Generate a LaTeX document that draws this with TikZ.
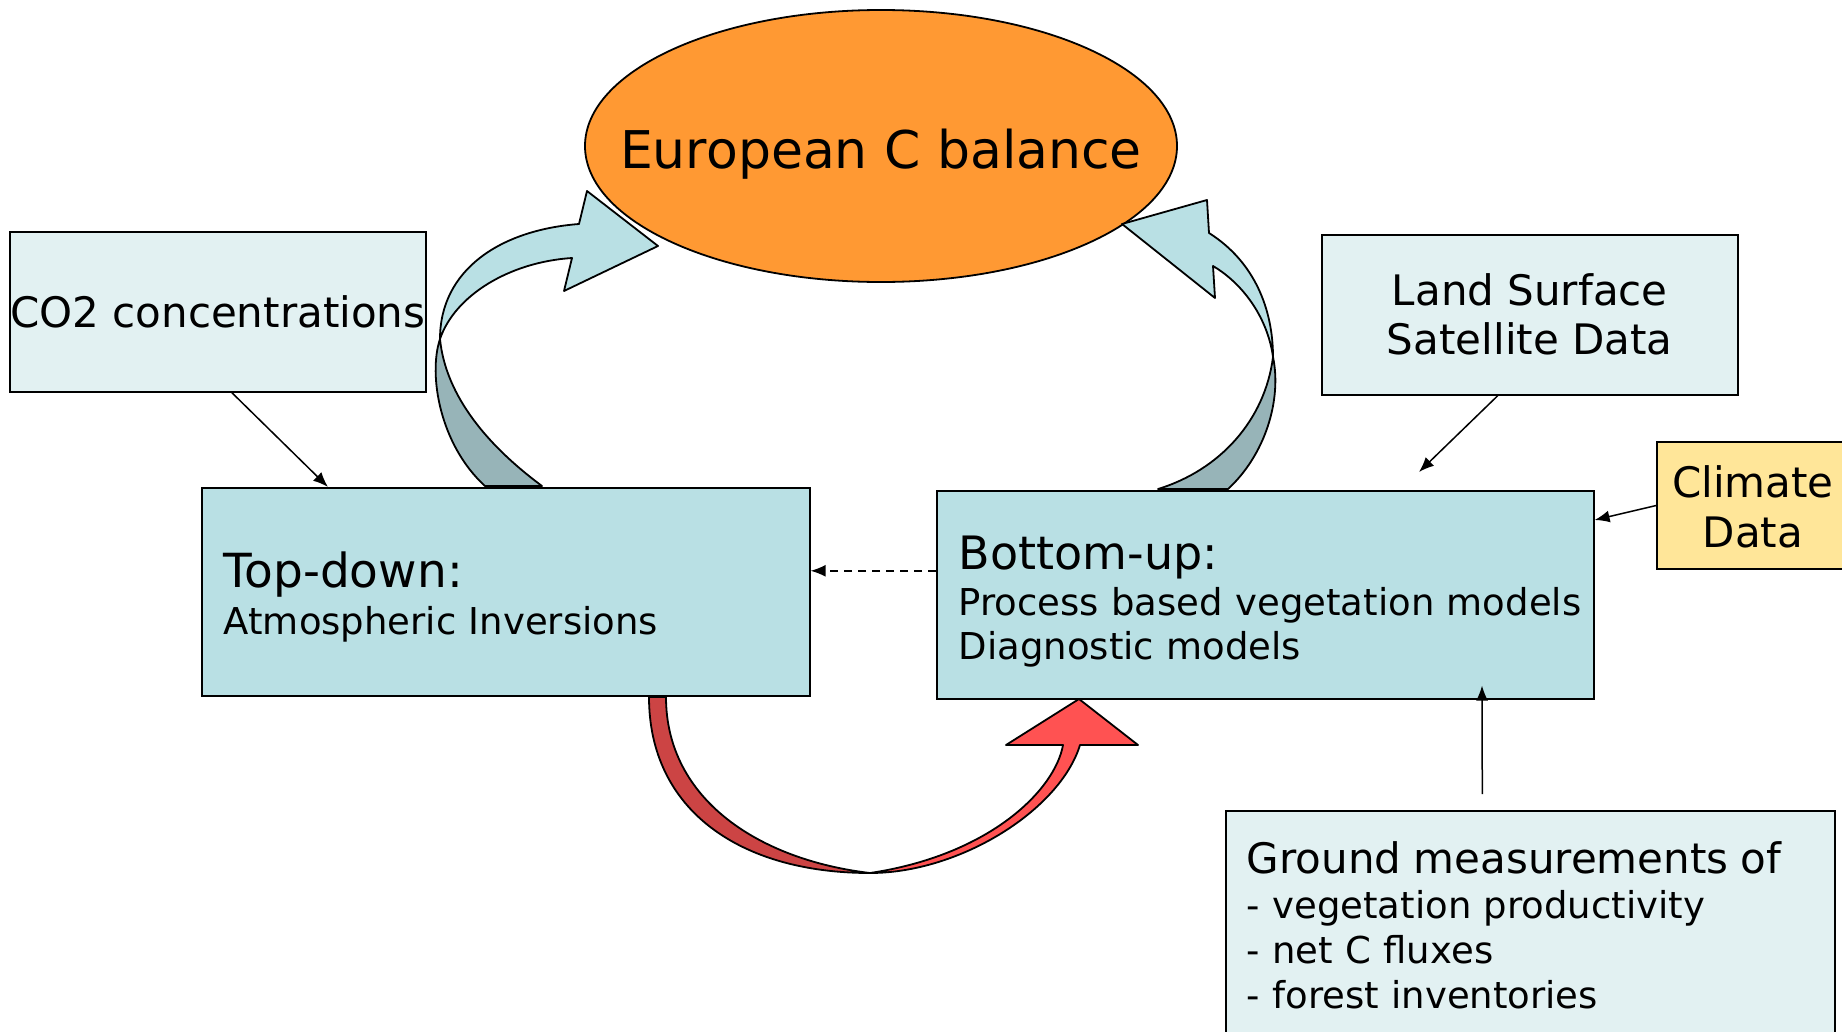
\documentclass[tikz,border=0pt]{standalone}
\usepackage{fontspec}
\setmainfont{DejaVu Sans}
\usetikzlibrary{shapes.geometric,arrows.meta}

\definecolor{balanceorange}{RGB}{255,153,51}
\definecolor{boxblue}{RGB}{185,224,228}
\definecolor{paleblue}{RGB}{226,241,242}
\definecolor{shadeblue}{RGB}{151,180,184}
\definecolor{climateyellow}{RGB}{255,230,153}
\definecolor{arrowred}{RGB}{255,82,82}
\definecolor{shadered}{RGB}{204,68,68}

\newcommand{\fsz}[2]{\fontsize{#1}{#2}\selectfont}
\hyphenpenalty=10000
\hfuzz=40pt

\begin{document}
\begin{tikzpicture}[x=1pt, y=-1pt,
  box/.style={draw, line width=1.6pt, rectangle, inner sep=0pt, anchor=north west},
  ribbon/.style={draw, line width=1.8pt, line join=round},
  link/.style={line width=1.5pt, -{Latex[length=15pt,width=12pt]}}]
  \clip (0,0) rectangle (1842,1031);

  \node[ellipse, draw, line width=1.8pt, fill=balanceorange, minimum width=592pt, minimum height=272pt,
    inner sep=0pt, text height=44pt, text depth=0pt, font=\fsz{52}{60}] (balance) at (881,146)
    {\makebox[0pt]{European C balance}};

  % twisted ribbons
  \draw[ribbon, fill=shadeblue] (440,339) .. controls (428,375) and (440,445) .. (485,486)
    -- (542,486) .. controls (480,440) and (445,390) .. (440,339) -- cycle;
  \draw[ribbon, fill=boxblue] (440,339) .. controls (455,295) and (510,262) .. (572,258)
    -- (564,291) -- (658,246) -- (587,191) -- (579,224)
    .. controls (500,230) and (440,270) .. (440,339) -- cycle;
  \draw[ribbon, fill=shadeblue] (1273,357) .. controls (1282,400) and (1265,455) .. (1228,489)
    -- (1158,489) .. controls (1220,470) and (1265,420) .. (1273,357) -- cycle;
  \draw[ribbon, fill=boxblue] (1273,357) .. controls (1268,320) and (1245,285) .. (1213,266)
    -- (1215,298) -- (1122,224) -- (1207,200) -- (1209,233)
    .. controls (1255,262) and (1273,310) .. (1273,357) -- cycle;
  \draw[ribbon, fill=shadered] (649,697) .. controls (649,810) and (740,873) .. (870,873)
    .. controls (760,860) and (666,800) .. (666,697) -- cycle;
  \draw[ribbon, fill=arrowred] (870,873) .. controls (960,873) and (1060,810) .. (1080,745)
    -- (1138,745) -- (1079,699) -- (1006,745) -- (1063,745)
    .. controls (1055,790) and (990,855) .. (870,873) -- cycle;

  \node[box, fill=paleblue, minimum width=416pt, minimum height=160pt, font=\fsz{42}{50}]
    (co2) at (9,231) {CO2 concentrations};
  \node[box, fill=paleblue, minimum width=416pt, minimum height=160pt, align=center,
    text height=82pt, text depth=2pt, font=\fsz{42}{49}]
    (land) at (1321,234) {Land Surface\\Satellite Data};
  \node[draw, line width=1.6pt, fill=climateyellow, inner sep=0pt, minimum width=192pt, minimum height=127pt,
    align=center, text height=85pt, text depth=2pt, font=\fsz{42}{50}]
    (climate) at (1753,505.5) {Climate\\Data};
  \node[box, fill=boxblue, minimum width=608pt, minimum height=208pt, inner xsep=22pt, text width=564pt,
    align=left, text height=40pt, text depth=48pt, font=\fsz{37}{44}]
    (topdown) at (201,487) {{\fsz{47}{44}Top-down:}\\[3pt]Atmospheric Inversions};
  \node[box, fill=boxblue, minimum width=657pt, minimum height=208pt, inner xsep=22pt, text width=613pt,
    align=left, text height=40pt, text depth=90pt, font=\fsz{37}{44}]
    (bottomup) at (936,490) {{\fsz{46}{44}Bottom-up:}\\[2pt]\mbox{Process based vegetation models}\\Diagnostic models};
  \node[box, fill=paleblue, minimum width=609pt, inner xsep=21pt, inner ysep=30pt, text width=567pt,
    align=left, text height=33pt, text depth=170pt, font=\fsz{37}{45}]
    (ground) at (1225,810) {{\fsz{42}{45}Ground measurements of}\\- vegetation productivity\\- net C fluxes\\- forest inventories};

  \draw[link] ([xshift=14pt]co2.south) -- ([xshift=127pt]topdown.north west);
  \draw[link] ([xshift=-32pt]land.south) -- ([xshift=483pt,yshift=18pt]bottomup.north west);
  \draw[link] (climate.west) -- ([yshift=-30pt]bottomup.north east);
  \draw[link] ([xshift=-48pt,yshift=16pt]ground.north) -- ([xshift=546pt,yshift=14pt]bottomup.south west);
  \draw[link, dash pattern=on 8pt off 6pt] ([yshift=24pt]bottomup.west) -- ([yshift=21pt]topdown.east);
\end{tikzpicture}
\end{document}
